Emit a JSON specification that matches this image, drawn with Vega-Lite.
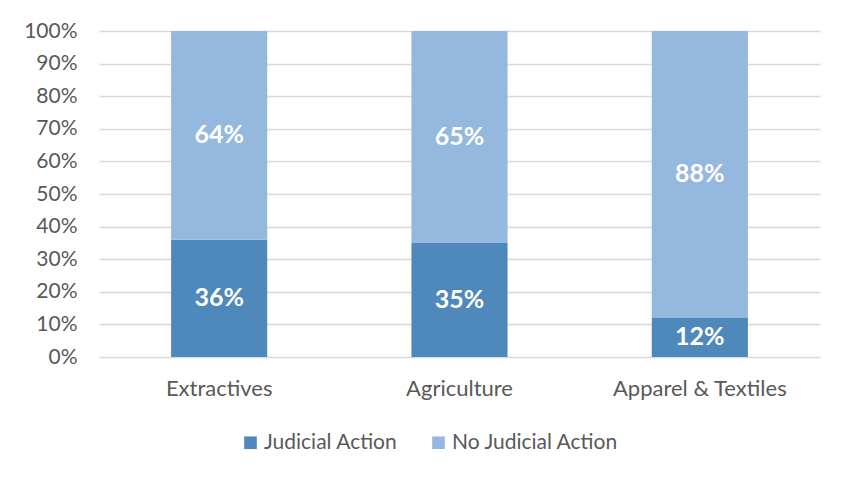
{
  "$schema": "https://vega.github.io/schema/vega-lite/v6.json",
  "width": 721,
  "height": 326,
  "autosize": {"type": "none"},
  "padding": {"left": 99, "top": 31, "right": 31, "bottom": 124},
  "background": "white",
  "config": {
    "font": "Lato",
    "view": {"stroke": null},
    "axis": {"labelFont": "Lato", "labelColor": "#595959", "labelFontSize": 21}
  },
  "data": {
    "values": [
      {"sector": "Extractives", "status": "Judicial Action", "value": 36, "label": "36%", "ord": 1},
      {"sector": "Extractives", "status": "No Judicial Action", "value": 64, "label": "64%", "ord": 2},
      {"sector": "Agriculture", "status": "Judicial Action", "value": 35, "label": "35%", "ord": 1},
      {"sector": "Agriculture", "status": "No Judicial Action", "value": 65, "label": "65%", "ord": 2},
      {"sector": "Apparel & Textiles", "status": "Judicial Action", "value": 12, "label": "12%", "ord": 1},
      {"sector": "Apparel & Textiles", "status": "No Judicial Action", "value": 88, "label": "88%", "ord": 2}
    ]
  },
  "transform": [
    {"stack": "value", "groupby": ["sector"], "sort": [{"field": "ord"}], "as": ["v0", "v1"]},
    {"calculate": "(datum.v0 + datum.v1) / 2", "as": "vmid"}
  ],
  "encoding": {
    "x": {
      "field": "sector", "type": "nominal",
      "sort": ["Extractives", "Agriculture", "Apparel & Textiles"],
      "scale": {"paddingInner": 0.6, "paddingOuter": 0.3},
      "axis": {"title": null, "labelAngle": 0, "ticks": false, "domain": false, "labelPadding": 21, "labelFontSize": 22}
    }
  },
  "layer": [
    {
      "mark": {"type": "bar"},
      "encoding": {
        "y": {
          "field": "v0", "type": "quantitative",
          "scale": {"domain": [0, 100]},
          "axis": {
            "title": null, "values": [0,10,20,30,40,50,60,70,80,90,100],
            "labelExpr": "datum.value + '%'", "ticks": false, "domain": false,
            "labelOverlap": false, "labelBound": false,
            "gridColor": "#d9d9d9", "gridWidth": 1.5, "labelPadding": 22
          }
        },
        "y2": {"field": "v1"},
        "color": {
          "field": "status", "type": "nominal",
          "scale": {"domain": ["Judicial Action", "No Judicial Action"], "range": ["#4f88bb", "#95b8df"]},
          "legend": {
            "title": null, "orient": "none", "direction": "horizontal",
            "legendX": 141, "legendY": 401,
            "symbolType": "square", "symbolSize": 160, "symbolStrokeWidth": 0, "symbolOpacity": 1,
            "labelFontSize": 21, "labelColor": "#595959", "labelFont": "Lato", "labelLimit": 400,
            "columnPadding": 30, "labelOffset": 3
          }
        }
      }
    },
    {
      "mark": {"type": "text", "color": "white", "fontWeight": "bold", "fontSize": 25, "font": "Lato", "baseline": "middle"},
      "encoding": {
        "y": {
          "field": "vmid", "type": "quantitative",
          "scale": {"domain": [0, 100]},
          "axis": {
            "title": null, "values": [0,10,20,30,40,50,60,70,80,90,100],
            "labelExpr": "datum.value + '%'", "ticks": false, "domain": false,
            "labelOverlap": false, "labelBound": false,
            "gridColor": "#d9d9d9", "gridWidth": 1.5, "labelPadding": 22
          }
        },
        "text": {"field": "label", "type": "nominal"},
        "detail": {"field": "status"}
      }
    }
  ]
}
